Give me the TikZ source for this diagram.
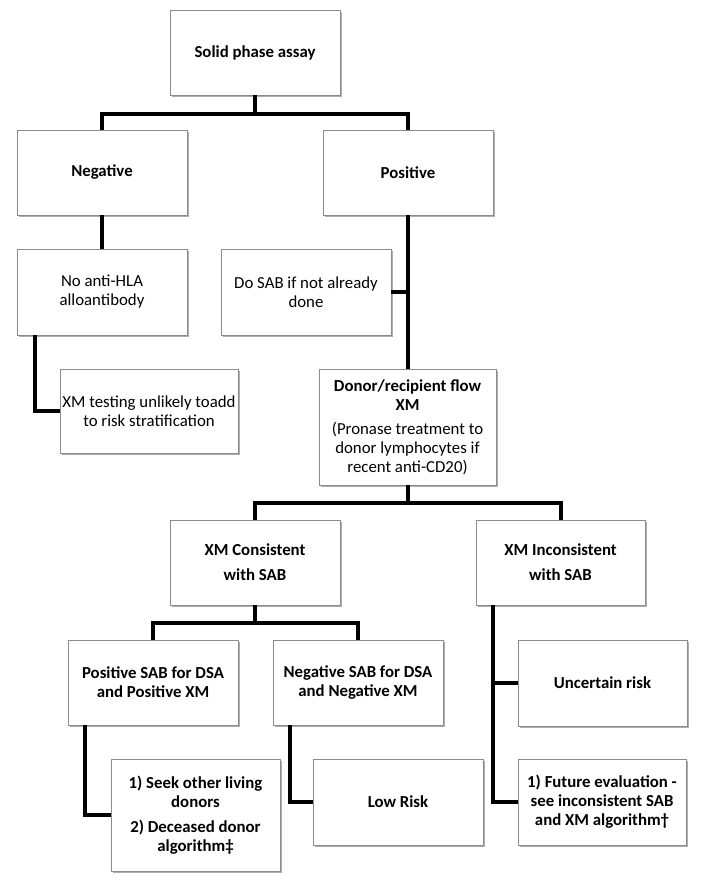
\documentclass[tikz,border=0pt]{standalone}
\usepackage{fontspec}
\setmainfont{Carlito}
\usetikzlibrary{shadows}
\begin{document}
\begin{tikzpicture}[x=1pt,y=-1pt,
  box/.style={draw=black!45, line width=0.9pt, fill=white,
    drop shadow={shadow xshift=1.8pt, shadow yshift=-1.8pt, fill=black!45, opacity=0.7},
    align=center, inner sep=0pt, font=\fontsize{16.8}{19}\selectfont},
  bbox/.style={box, font=\fontsize{16.8}{19}\selectfont\bfseries},
  conn/.style={line width=4pt, black}]
\useasboundingbox (0,0) rectangle (703,891);
\fill[white] (0,0) rectangle (703,891);

\node[bbox, minimum width=170pt, minimum height=85pt] (spa) at (255,52.5) {Solid phase assay};
\node[bbox, minimum width=170pt, minimum height=85pt] (neg) at (102,172.5) {Negative};
\node[bbox, minimum width=170pt, minimum height=85pt] (pos) at (408,172.5) {Positive};
\node[box, minimum width=170pt, minimum height=86pt] (noanti) at (102,292) {No anti-HLA\\alloantibody};
\node[box, minimum width=170pt, minimum height=86pt] (dosab) at (306,292) {Do SAB if not already\\done};
\node[box, minimum width=178pt, minimum height=84pt] (xmtest) at (149,411) {XM testing unlikely toadd\\to risk stratification};
\node[box, minimum width=177pt, minimum height=116pt] (donor) at (407.5,427) {\textbf{Donor/recipient flow}\\\textbf{XM}\\[5pt](Pronase treatment to\\donor lymphocytes if\\recent anti-CD20)};
\node[bbox, minimum width=170pt, minimum height=85pt] (cons) at (255,562.5) {XM Consistent\\[6pt]with SAB};
\node[bbox, minimum width=169pt, minimum height=85pt] (incons) at (560.5,562.5) {XM Inconsistent\\[6pt]with SAB};
\node[bbox, minimum width=170pt, minimum height=85pt] (possab) at (153,682.5) {Positive SAB for DSA\\and Positive XM};
\node[bbox, minimum width=170pt, minimum height=85pt] (negsab) at (358,682.5) {Negative SAB for DSA\\and Negative XM};
\node[bbox, minimum width=169pt, minimum height=112pt] (seek) at (195.5,815) {1) Seek other living\\donors\\[6pt]2) Deceased donor\\algorithm‡};
\node[bbox, minimum width=170pt, minimum height=86pt] (low) at (398,802) {Low Risk};
\node[bbox, minimum width=169pt, minimum height=86pt] (uncert) at (602.5,683) {Uncertain risk};
\node[bbox, minimum width=168pt, minimum height=86pt] (future) at (602,802) {1) Future evaluation -\\see inconsistent SAB\\and XM algorithm†};

\coordinate (b1) at (255,114);
\coordinate (b2) at (407.5,503);
\coordinate (b3) at (255,623);
\coordinate (v1) at ([xshift=-67pt]noanti.south);
\coordinate (v2) at ([xshift=-68pt]possab.south);
\coordinate (v3) at ([xshift=-68pt]negsab.south);
\coordinate (v4) at ([xshift=-67.5pt]incons.south);

\draw[conn] (spa.south) -- (b1);
\draw[conn] (neg.north) |- (b1) -| (pos.north);
\draw[conn] (neg.south) -- (noanti.north);
\draw[conn] (v1) |- (xmtest.west);
\draw[conn] (pos.south) -- (pos.south |- donor.north);
\draw[conn] (dosab.east) -- (dosab.east -| pos.south);
\draw[conn] (donor.south) -- (b2);
\draw[conn] (cons.north) |- (b2) -| (incons.north);
\draw[conn] (cons.south) -- (b3);
\draw[conn] (possab.north) |- (b3) -| (negsab.north);
\draw[conn] (v2) |- (seek.west);
\draw[conn] (v3) |- (low.west);
\draw[conn] (v4) |- (future.west);
\draw[conn] (uncert.west) -- (uncert.west -| v4);
\end{tikzpicture}
\end{document}
